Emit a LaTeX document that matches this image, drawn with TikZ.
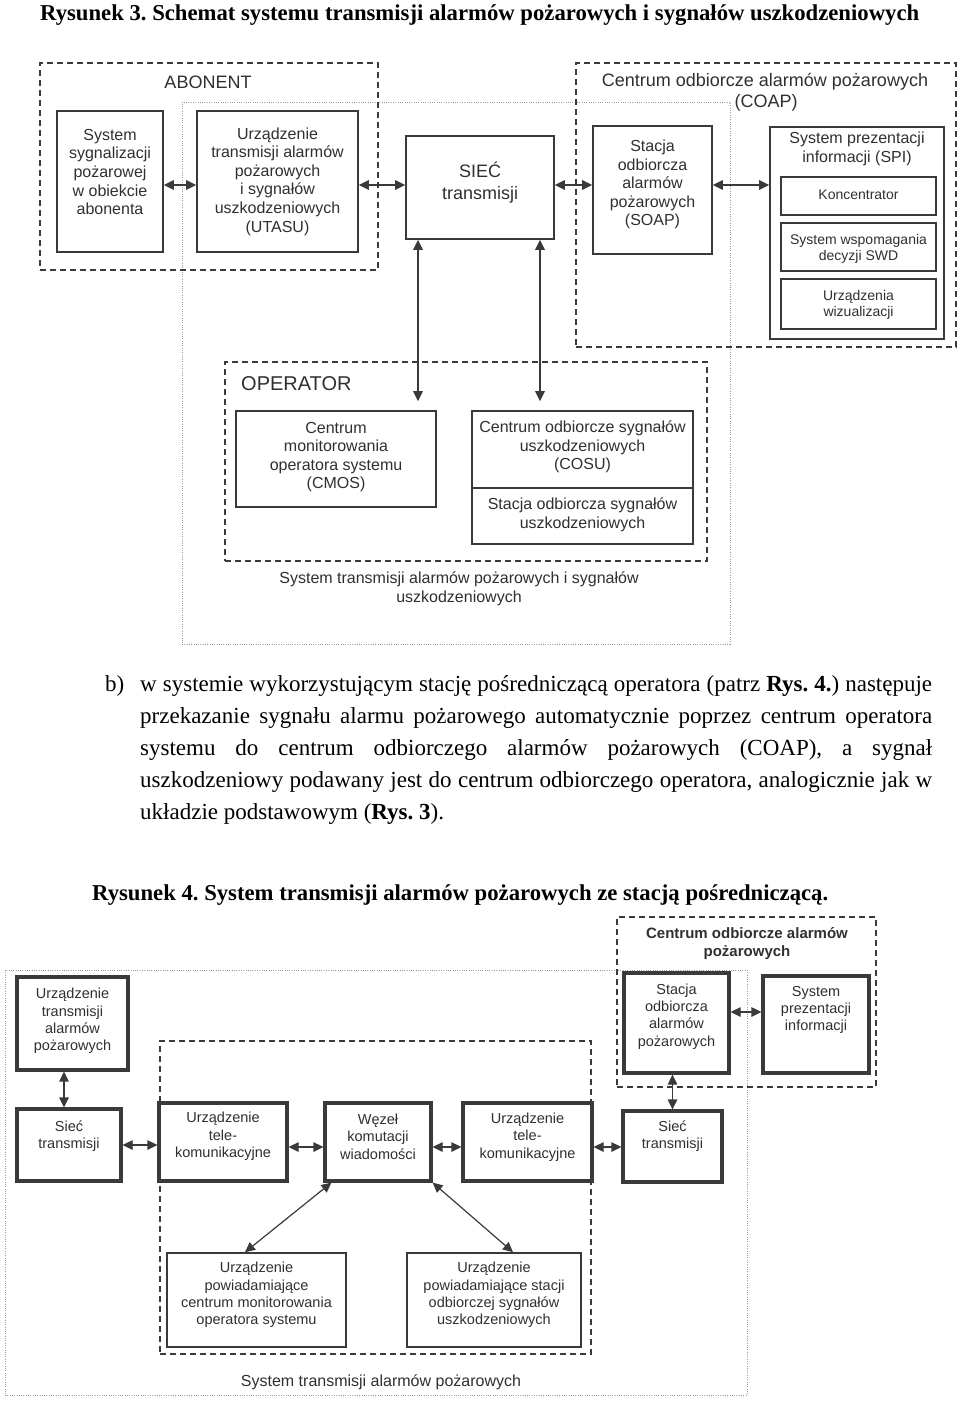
\documentclass[tikz,border=0pt]{standalone}
\usepackage{fontspec}
\setmainfont{Liberation Serif}
\newfontfamily\lsans{Liberation Sans}
\usetikzlibrary{arrows.meta,fit}
\frenchspacing
\definecolor{ln}{HTML}{3A3A3A}
\definecolor{tx}{HTML}{303030}
\definecolor{dotc}{HTML}{9A9A9A}
\tikzset{
  box/.style={draw=ln, line width=1.6pt, inner sep=0pt},
  tbox/.style={draw=ln, line width=3.2pt, inner sep=0pt},
  dashbox/.style={draw=ln, line width=1.4pt, dash pattern=on 6pt off 4pt, inner sep=0pt},
  dotbox/.style={draw=dotc, line width=0.9pt, dash pattern=on 1pt off 1.3pt, inner sep=0pt},
  arr/.style={draw=ln, line width=1.2pt, {Triangle[length=10pt,width=9.5pt]}-{Triangle[length=10pt,width=9.5pt]}},
  tt/.style={text=tx, align=center, inner sep=0pt},
  t14/.style={tt, font=\lsans\fontsize{14}{16}\selectfont},
  t145/.style={tt, font=\lsans\fontsize{14.5}{17.4}\selectfont},
  t16/.style={tt, font=\lsans\fontsize{16}{18.6}\selectfont},
  t18/.style={tt, font=\lsans\fontsize{18}{21.5}\selectfont},
  t20/.style={tt, font=\lsans\fontsize{20}{24}\selectfont},
  tb15/.style={tt, font=\lsans\bfseries\fontsize{15}{18}\selectfont},
  para/.style={inner sep=0pt, anchor=base west, text=black, font=\fontsize{23}{32}\selectfont},
  ttl/.style={inner sep=0pt, anchor=base west, text=black, font=\bfseries\fontsize{22.7}{27}\selectfont},
}
\begin{document}
\begin{tikzpicture}[x=1pt,y=-1pt]
\useasboundingbox (0,0) rectangle (960,1402);
\fill[white] (0,0) rectangle (960,1402);

% ---------- Figure 3 ----------
\node[ttl] (title3) at (40,21) {Rysunek 3. Schemat systemu transmisji alarmów pożarowych i sygnałów uszkodzeniowych};

\node[dotbox, fit={(182,102) (730,644)}] (sys3) {};
\node[dashbox, fit={(40,63) (378,270)}] (abon) {};
\node[dashbox, fit={(576,63) (956,347)}] (coap) {};
\node[dashbox, fit={(225,362) (707,561)}] (oper) {};

\node[t18] (abonL) at (208,82) {ABONENT};
\node[t18] (coapL1) at (765,82) {Centrum odbiorcze alarmów pożarowych};
\node[t18] (coapL2) at (766,103) {(COAP)};
\node[t20, anchor=west] (operL) at (241,384) {OPERATOR};

\node[box, fit={(57,111) (163,252)}] (sysb) {};
\node[t16] (sysbT) at (110,172) {System\\sygnalizacji\\pożarowej\\w obiekcie\\abonenta};

\node[box, fit={(197,111) (358,252)}] (utasu) {};
\node[t16] (utasuT) at (277.5,181.5) {Urządzenie\\transmisji alarmów\\pożarowych\\i sygnałów\\uszkodzeniowych\\(UTASU)};

\node[box, fit={(406,136) (554,239)}] (siec) {};
\node[t18, font=\lsans\fontsize{18}{22}\selectfont] (siecT) at (480,183) {SIEĆ\\transmisji};

\node[box, fit={(593,126) (712,254)}] (soap) {};
\node[t16] (soapT) at (652.5,184.5) {Stacja\\odbiorcza\\alarmów\\pożarowych\\(SOAP)};

\node[box, fit={(770,127) (944,339)}] (spi) {};
\node[t16] (spiT) at (857,149) {System prezentacji\\informacji (SPI)};
\node[box, fit={(781,177) (936,215)}] (konc) {};
\node[t14] (koncT) at (858.5,195) {Koncentrator};
\node[box, fit={(781,223) (936,271)}] (swd) {};
\node[t14] (swdT) at (858.5,249) {System wspomagania\\decyzji SWD};
\node[box, fit={(781,279) (936,329)}] (wiz) {};
\node[t14] (wizT) at (858.5,304.5) {Urządzenia\\wizualizacji};

\node[box, fit={(236,411) (436,507)}] (cmos) {};
\node[t16] (cmosT) at (336,457) {Centrum\\monitorowania\\operatora systemu\\(CMOS)};

\node[box, fit={(472,411) (693,544)}] (cosu) {};
\draw[ln, line width=1.6pt] (cosu.west |- 0,488) -- (cosu.east |- 0,488);
\node[t16] (cosuT1) at (582.5,447) {Centrum odbiorcze sygnałów\\uszkodzeniowych\\(COSU)};
\node[t16] (cosuT2) at (582.5,514.5) {Stacja odbiorcza sygnałów\\uszkodzeniowych};

\node[t16] (sys3T) at (459,589) {System transmisji alarmów pożarowych i sygnałów\\uszkodzeniowych};

\draw[arr] ([yshift=-3.5pt]sysb.east) -- ([yshift=-3.5pt]sysb.east -| utasu.west);
\draw[arr] ([yshift=-3.5pt]utasu.east) -- ([yshift=-3.5pt]utasu.east -| siec.west);
\draw[arr] ([yshift=2.5pt]siec.east) -- ([yshift=2.5pt]siec.east -| soap.west);
\draw[arr] ([yshift=5pt]soap.east) -- ([yshift=5pt]soap.east -| spi.west);
\draw[arr, shorten >=9pt] ([xshift=-62pt]siec.south) -- ([xshift=-62pt]siec.south |- cmos.north);
\draw[arr, shorten >=9pt] ([xshift=60pt]siec.south) -- ([xshift=60pt]siec.south |- cosu.north);

% ---------- Paragraph ----------
\node[para] (pb) at (105,691) {b)};
\node[para] (p1) at (140,691) {\makebox[792pt][s]{w systemie wykorzystującym stację pośredniczącą operatora (patrz \textbf{Rys. 4.}) następuje}};
\node[para] (p2) at (140,723) {\makebox[792pt][s]{przekazanie sygnału alarmu pożarowego automatycznie poprzez centrum operatora}};
\node[para] (p3) at (140,755) {\makebox[792pt][s]{systemu do centrum odbiorczego alarmów pożarowych (COAP), a sygnał}};
\node[para] (p4) at (140,787) {\makebox[792pt][s]{uszkodzeniowy podawany jest do centrum odbiorczego operatora, analogicznie jak w}};
\node[para] (p5) at (140,819) {układzie podstawowym (\textbf{Rys. 3}).};

% ---------- Figure 4 ----------
\node[ttl] (title4) at (92,900) {Rysunek 4. System transmisji alarmów pożarowych ze stacją pośredniczącą.};

\node[dotbox, fit={(5,970) (747,1395)}] (sys4) {};
\node[dashbox, fit={(160,1041) (591,1354)}] (oper4) {};
\node[dashbox, fit={(617,917) (876,1087)}] (coap4) {};
\node[tb15] (coap4L) at (747,944) {Centrum odbiorcze alarmów\\pożarowych};

\node[tbox, fit={(17,977) (128,1070)}] (uta) {};
\node[t145] (utaT) at (72.5,1021) {Urządzenie\\transmisji\\alarmów\\pożarowych};

\node[tbox, fit={(17,1109) (121,1181)}] (sl) {};
\node[t145] (slT) at (69,1136) {Sieć\\transmisji};

\node[tbox, fit={(159,1103) (287,1181)}] (utk1) {};
\node[t145] (utk1T) at (223,1136.5) {Urządzenie\\tele-\\komunikacyjne};

\node[tbox, fit={(325,1103) (431,1181)}] (wez) {};
\node[t145] (wezT) at (378,1136.5) {Węzeł\\komutacji\\wiadomości};

\node[tbox, fit={(463,1103) (592,1181)}] (utk2) {};
\node[t145] (utk2T) at (527.5,1137) {Urządzenie\\tele-\\komunikacyjne};

\node[tbox, fit={(623,1111) (722,1182)}] (sr) {};
\node[t145] (srT) at (672.5,1136) {Sieć\\transmisji};

\node[tbox, fit={(624,973) (729,1073)}] (soap4) {};
\node[t145] (soap4T) at (676.5,1016.5) {Stacja\\odbiorcza\\alarmów\\pożarowych};

\node[tbox, fit={(763,976) (869,1073)}] (spi4) {};
\node[t145] (spi4T) at (816,1010) {System\\prezentacji\\informacji};

\node[box, fit={(167,1253) (346,1347)}] (cmos4) {};
\node[t145] (cmos4T) at (256.5,1295) {Urządzenie\\powiadamiające\\centrum monitorowania\\operatora systemu};

\node[box, fit={(407,1253) (581,1347)}] (cosu4) {};
\node[t145] (cosu4T) at (494,1295) {Urządzenie\\powiadamiające stacji\\odbiorczej sygnałów\\uszkodzeniowych};

\node[t16] (sys4T) at (381,1382) {System transmisji alarmów pożarowych};

\draw[arr] ([xshift=-8.5pt]uta.south) -- ([xshift=-8.5pt]uta.south |- sl.north);
\draw[arr] (sl.east) -- (sl.east -| utk1.west);
\draw[arr] ([yshift=-5pt]utk1.east) -- ([yshift=-5pt]utk1.east -| wez.west);
\draw[arr] ([yshift=-5pt]wez.east) -- ([yshift=-5pt]wez.east -| utk2.west);
\draw[arr] ([yshift=-5pt]utk2.east) -- ([yshift=-5pt]utk2.east -| sr.west);
\draw[arr] (sr.north) -- (sr.north |- soap4.south);
\draw[arr] ([yshift=11pt]soap4.east) -- ([yshift=11pt]soap4.east -| spi4.west);
\draw[arr] ([xshift=8pt]wez.south west) -- ([xshift=-11.5pt]cmos4.north);
\draw[arr] (wez.south east) -- ([xshift=19pt]cosu4.north);
\end{tikzpicture}
\end{document}
